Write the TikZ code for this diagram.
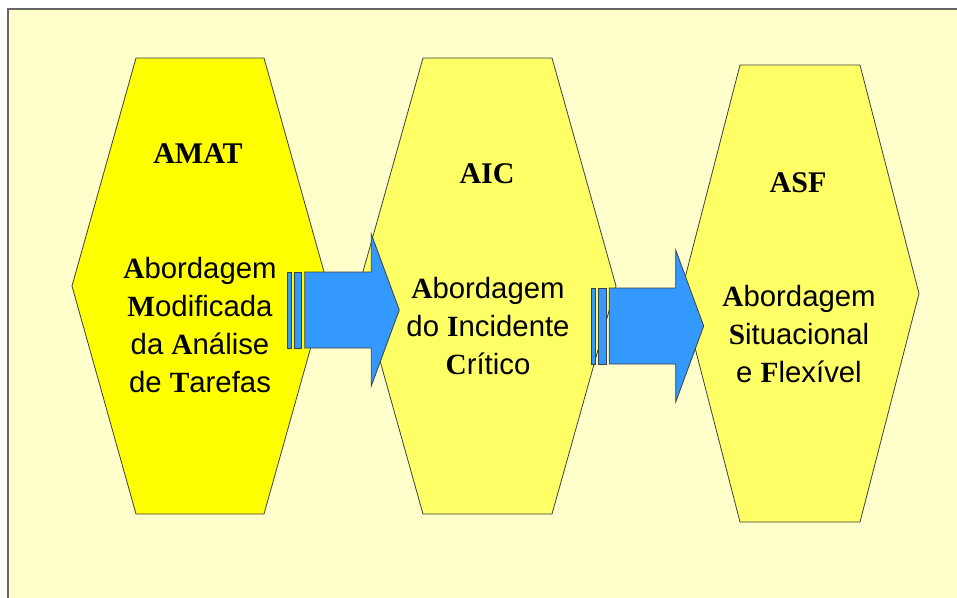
\documentclass[tikz,border=0pt]{standalone}
\usepackage{fontspec}
\setmainfont{Liberation Sans}
\newfontfamily\timesbf{Liberation Serif}

\newcommand{\ini}[1]{{\timesbf\bfseries #1}}

\definecolor{paper}{HTML}{FFFFCC}
\definecolor{hexone}{HTML}{FFFF00}
\definecolor{hextwo}{HTML}{FFFF66}
\definecolor{arrowblue}{HTML}{3399FF}

\tikzset{
    hexline/.style={draw=black!75, line width=0.6pt},
    title/.style={font=\timesbf\bfseries\fontsize{22.5}{27}\selectfont, anchor=base},
    body/.style={font=\fontsize{22}{28.5}\selectfont, align=center, anchor=base},
    bluepart/.style={draw=black!75, line width=0.6pt, fill=arrowblue},
    stripearrow/.pic={
        \path[bluepart] (0,-38) rectangle (4,38);
        \path[bluepart] (7,-38) rectangle (14.5,38);
        \path[bluepart] (17.5,-38) -- (84,-38) -- (84,-76) -- (112,0) -- (84,76) -- (84,38) -- (17.5,38) -- cycle;
    }
}

\begin{document}
\begin{tikzpicture}[x=0.75pt,y=-0.75pt]
    \useasboundingbox (0,0) rectangle (957,597);
    \path[fill=paper, draw=black!60, line width=0.8pt] (8,9) rectangle (990,630);

    \coordinate (amat) at (200,286);
    \coordinate (aic) at (487.5,286);
    \coordinate (asf) at (800,293.5);
    \draw[hexline, fill=hexone] ([shift={(-64,-228)}]amat) -- ++(128,0) -- ++(64,228) -- ++(-64,228) -- ++(-128,0) -- ++(-64,-228) -- cycle;
    \draw[hexline, fill=hextwo] ([shift={(-64.5,-228)}]aic) -- ++(129,0) -- ++(64,228) -- ++(-64,228) -- ++(-129,0) -- ++(-64,-228) -- cycle;
    \draw[hexline, fill=hextwo] ([shift={(-60,-228.5)}]asf) -- ++(120,0) -- ++(59,228.5) -- ++(-59,228.5) -- ++(-120,0) -- ++(-59,-228.5) -- cycle;

    \node[title] (amat-t) at (198,163) {AMAT};
    \node[body] (amat-b) at (200,392) {\ini{A}bordagem\\ \ini{M}odificada\\ da \ini{A}nálise\\ de \ini{T}arefas};

    \node[title] (aic-t) at (487,183) {AIC};
    \node[body] (aic-b) at (488,374) {\ini{A}bordagem\\ do \ini{I}ncidente\\ \ini{C}rítico};

    \node[title] (asf-t) at (798,192) {ASF};
    \node[body] (asf-b) at (799,382) {\ini{A}bordagem\\ \ini{S}ituacional\\ e \ini{F}lexível};

    \coordinate (arr1) at (287.3,310);
    \coordinate (arr2) at (591.7,326);
    \pic at (arr1) {stripearrow};
    \pic at (arr2) {stripearrow};
\end{tikzpicture}
\end{document}
